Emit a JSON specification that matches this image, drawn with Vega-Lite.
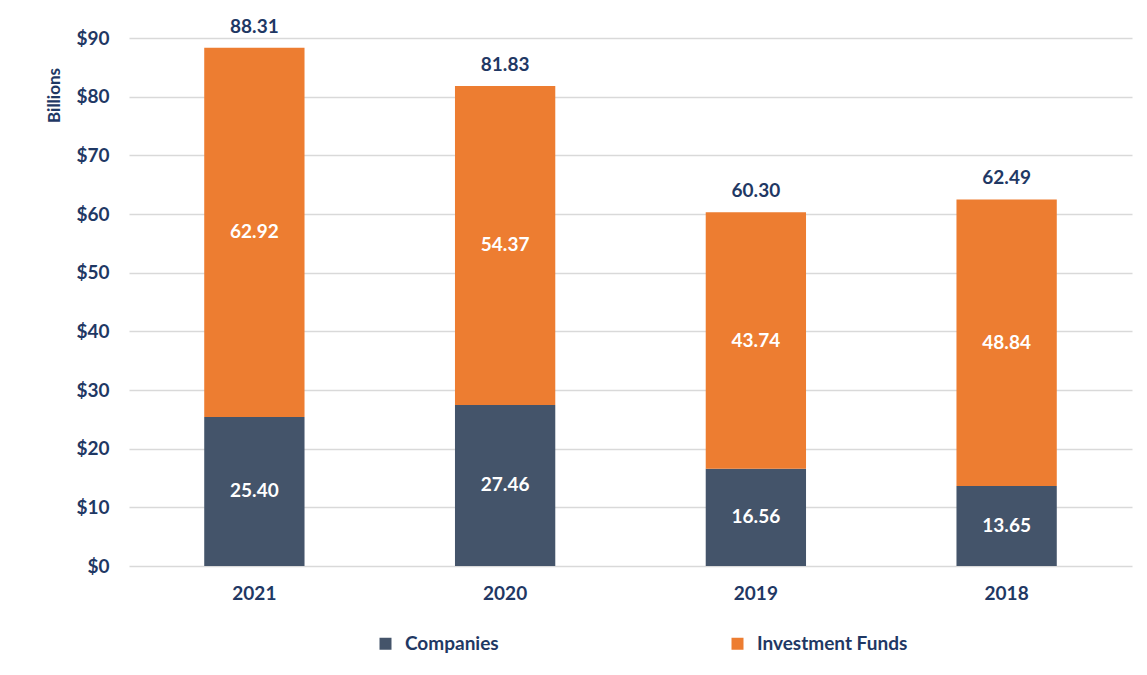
{
  "$schema": "https://vega.github.io/schema/vega-lite/v6.json",
  "width": 1003,
  "height": 528,
  "autosize": {"type": "none"},
  "padding": {"left": 129, "top": 38, "right": 15, "bottom": 109},
  "background": "white",
  "config": {
    "font": "Lato",
    "view": {"stroke": null},
    "axis": {"labelFont": "Lato", "labelFontWeight": "bold", "labelFontSize": 19, "labelColor": "#1F3864"}
  },
  "datasets": {
    "segments": [
      {"year": "2021", "type": "Companies", "value": 25.40},
      {"year": "2021", "type": "Investment Funds", "value": 62.92},
      {"year": "2020", "type": "Companies", "value": 27.46},
      {"year": "2020", "type": "Investment Funds", "value": 54.37},
      {"year": "2019", "type": "Companies", "value": 16.56},
      {"year": "2019", "type": "Investment Funds", "value": 43.74},
      {"year": "2018", "type": "Companies", "value": 13.65},
      {"year": "2018", "type": "Investment Funds", "value": 48.84}
    ],
    "totals": [
      {"year": "2021", "total": 88.31},
      {"year": "2020", "total": 81.83},
      {"year": "2019", "total": 60.30},
      {"year": "2018", "total": 62.49}
    ]
  },
  "encoding": {
    "x": {
      "field": "year", "type": "nominal",
      "sort": ["2021", "2020", "2019", "2018"],
      "scale": {"paddingInner": 0.6, "paddingOuter": 0.3},
      "axis": {"title": null, "labelAngle": 0, "domain": false, "ticks": false, "labelPadding": 18}
    }
  },
  "layer": [
    {
      "data": {"name": "segments"},
      "mark": {"type": "bar"},
      "encoding": {
        "y": {
          "field": "value", "type": "quantitative", "stack": "zero",
          "scale": {"domain": [0, 90]},
          "axis": {
            "values": [0, 10, 20, 30, 40, 50, 60, 70, 80, 90],
            "format": "$.0f",
            "domain": false, "ticks": false, "labelPadding": 20,
            "grid": true, "gridColor": "#D9D9D9", "gridWidth": 1.3,
            "title": "Billions", "titleFont": "Lato", "titleFontSize": 17, "titleFontWeight": "bold",
            "titleColor": "#1F3864", "titleAngle": 270, "titleX": -75, "titleY": 57,
            "titleAlign": "center", "titleBaseline": "middle"
          }
        },
        "color": {
          "field": "type", "type": "nominal",
          "scale": {"domain": ["Companies", "Investment Funds"], "range": ["#44546A", "#ED7D31"]},
          "legend": {
            "title": null, "orient": "none", "direction": "horizontal",
            "legendX": 247, "legendY": 596,
            "symbolType": "square", "symbolSize": 144, "symbolOpacity": 1,
            "symbolStrokeWidth": 0,
            "labelFont": "Lato", "labelFontSize": 19, "labelFontWeight": "bold", "labelColor": "#1F3864",
            "labelOffset": 10, "columnPadding": 229
          }
        },
        "order": {"field": "type", "sort": "ascending"}
      }
    },
    {
      "data": {"name": "segments"},
      "transform": [
        {"stack": "value", "groupby": ["year"], "sort": [{"field": "type", "order": "ascending"}], "as": ["v0", "v1"]},
        {"fold": ["v0", "v1"], "as": ["edge", "pos"]}
      ],
      "mark": {"type": "text", "font": "Lato", "fontSize": 19, "fontWeight": "bold", "color": "white", "baseline": "middle"},
      "encoding": {
        "y": {"field": "pos", "aggregate": "mean", "type": "quantitative", "stack": null},
        "detail": {"field": "type", "type": "nominal"},
        "text": {"field": "value", "type": "quantitative", "format": ".2f"}
      }
    },
    {
      "data": {"name": "totals"},
      "mark": {"type": "text", "font": "Lato", "fontSize": 19, "fontWeight": "bold", "color": "#1F3864", "baseline": "bottom", "dy": -11},
      "encoding": {
        "y": {"field": "total", "type": "quantitative"},
        "text": {"field": "total", "type": "quantitative", "format": ".2f"}
      }
    }
  ]
}
